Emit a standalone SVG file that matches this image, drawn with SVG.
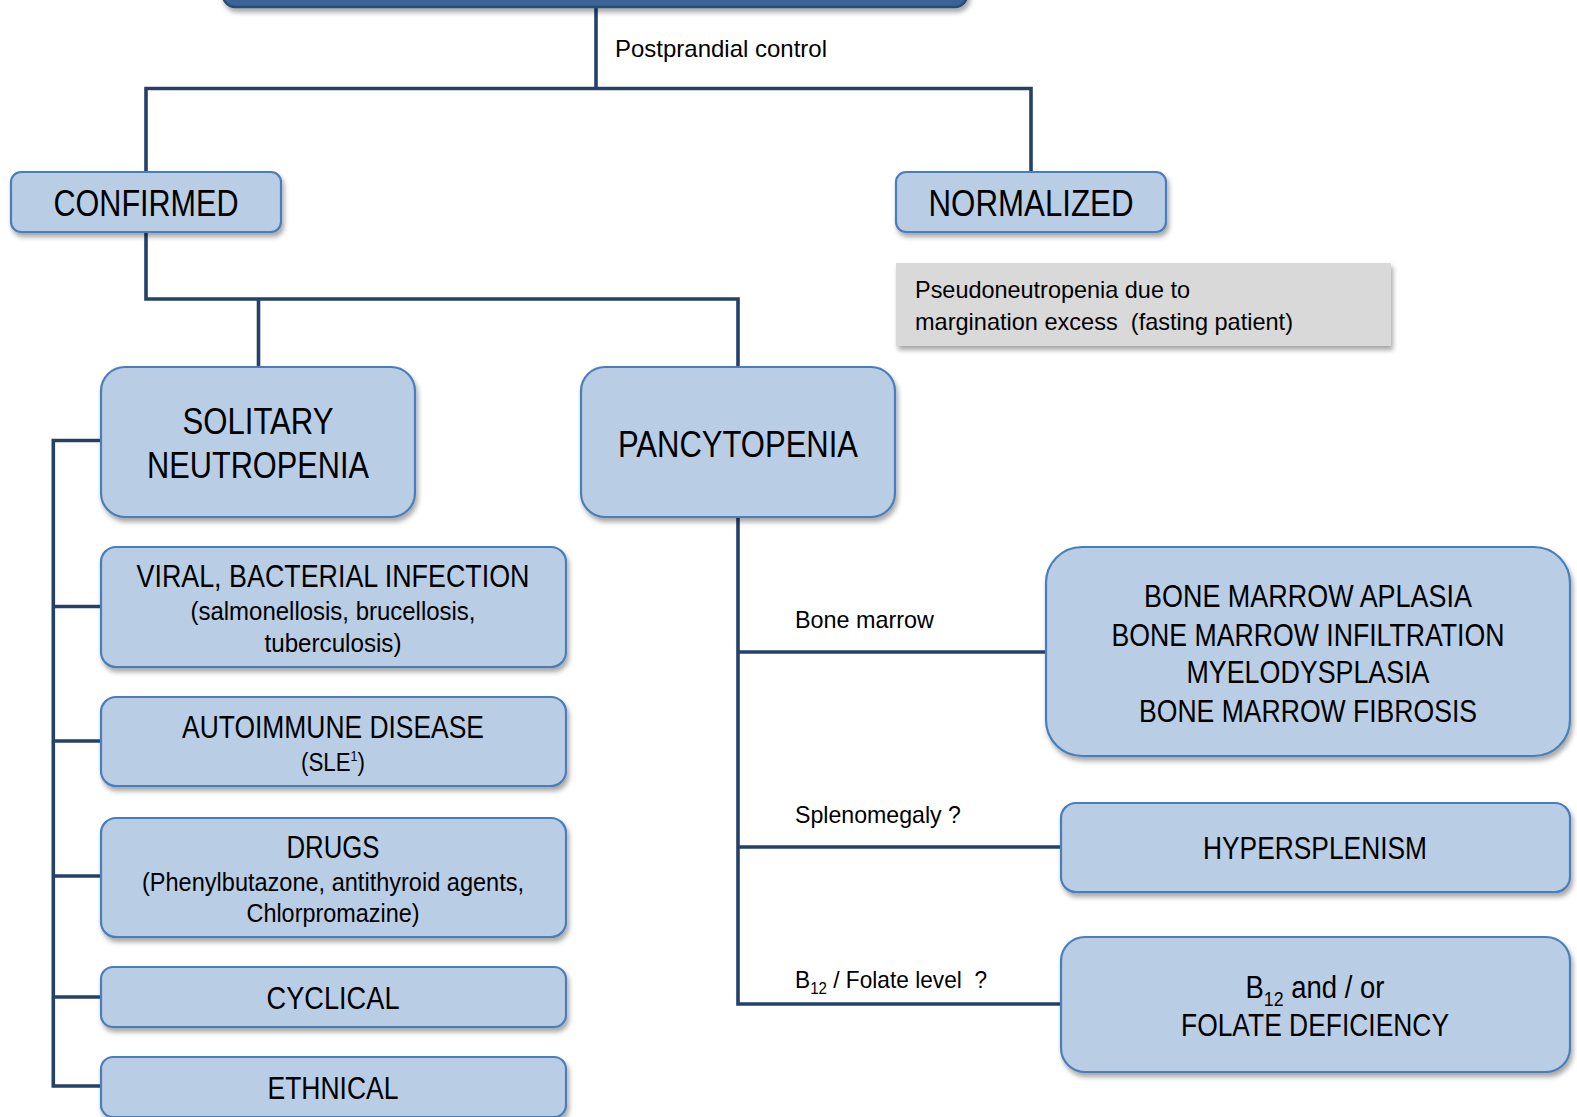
<svg xmlns="http://www.w3.org/2000/svg" width="1577" height="1117" viewBox="0 0 1577 1117">
<defs>
<filter id="sh" x="-10%" y="-10%" width="125%" height="135%">
<feDropShadow dx="2" dy="4" stdDeviation="2.5" flood-color="#000" flood-opacity="0.35"/>
</filter>
<style>
.box{fill:#b9cde5;stroke:#4a7ebb;stroke-width:2.2;filter:url(#sh)}
.gray{fill:#d9d9d9;stroke:none;filter:url(#sh)}
.top{fill:#3b6497;stroke:#2b4c74;stroke-width:2.5;filter:url(#sh)}
.ln{fill:none;stroke:#24416a;stroke-width:3.6;stroke-linejoin:miter;stroke-linecap:square}
text{font-family:"Liberation Sans Narrow","Arial Narrow","Liberation Sans",sans-serif;fill:#000}
.c{text-anchor:middle}
.big{font-size:37px}
.mid{font-size:31px}
.sm{font-size:25px}
.lab{font-size:24px}
</style>
</defs>
<g id="connectors">
<path class="ln" d="M596,8 V88.5 M146,88.5 H1031 M146,88.5 V172 M1031,88.5 V172"/>
<path class="ln" d="M146,232 V299 H738 M258.5,299 V367 M738,299 V367"/>
<path class="ln" d="M101,440.5 H53.3 V1086 H101 M53.3,606.5 H101 M53.3,741 H101 M53.3,876 H101 M53.3,997 H101"/>
<path class="ln" d="M738,517 V1004 H1061 M738,652 H1046 M738,847 H1061"/>
</g>
<g id="node-top"><rect class="top" x="223" y="-30" width="744" height="37" rx="12"/></g>
<g id="label-postprandial"><text class="lab" x="615" y="57" textLength="212" lengthAdjust="spacingAndGlyphs">Postprandial control</text></g>
<g id="node-confirmed"><rect class="box" x="11" y="172" width="270" height="60" rx="10"/><text class="c big" x="146" y="216" textLength="185" lengthAdjust="spacingAndGlyphs">CONFIRMED</text></g>
<g id="node-normalized"><rect class="box" x="896" y="172" width="270" height="60" rx="10"/><text class="c big" x="1031" y="216" textLength="205" lengthAdjust="spacingAndGlyphs">NORMALIZED</text></g>
<g id="node-pseudo"><rect class="gray" x="896" y="263" width="495" height="83"/><text class="lab" x="915" y="298" textLength="275" lengthAdjust="spacingAndGlyphs">Pseudoneutropenia due to</text><text class="lab" x="915" y="330" xml:space="preserve" textLength="378" lengthAdjust="spacingAndGlyphs">margination excess  (fasting patient)</text></g>
<g id="node-solitary"><rect class="box" x="101" y="367" width="314" height="150" rx="24"/><text class="c big" x="258" y="434" textLength="151" lengthAdjust="spacingAndGlyphs">SOLITARY</text><text class="c big" x="258" y="478" textLength="222" lengthAdjust="spacingAndGlyphs">NEUTROPENIA</text></g>
<g id="node-pancytopenia"><rect class="box" x="581" y="367" width="314" height="150" rx="24"/><text class="c big" x="738" y="457" textLength="240" lengthAdjust="spacingAndGlyphs">PANCYTOPENIA</text></g>
<g id="node-viral"><rect class="box" x="101" y="547" width="465" height="120" rx="15"/><text class="c mid" x="333" y="587" textLength="393" lengthAdjust="spacingAndGlyphs">VIRAL, BACTERIAL INFECTION</text><text class="c sm" x="333" y="620" textLength="285" lengthAdjust="spacingAndGlyphs">(salmonellosis, brucellosis,</text><text class="c sm" x="333" y="652" textLength="137" lengthAdjust="spacingAndGlyphs">tuberculosis)</text></g>
<g id="node-autoimmune"><rect class="box" x="101" y="697" width="465" height="89" rx="15"/><text class="c mid" x="333" y="738" textLength="302" lengthAdjust="spacingAndGlyphs">AUTOIMMUNE DISEASE</text><text class="c sm" x="333" y="771" textLength="64" lengthAdjust="spacingAndGlyphs">(SLE<tspan font-size="14" dy="-10">1</tspan><tspan dy="10">)</tspan></text></g>
<g id="node-drugs"><rect class="box" x="101" y="818" width="465" height="119" rx="15"/><text class="c mid" x="333" y="858" textLength="93" lengthAdjust="spacingAndGlyphs">DRUGS</text><text class="c sm" x="333" y="891" textLength="382" lengthAdjust="spacingAndGlyphs">(Phenylbutazone, antithyroid agents,</text><text class="c sm" x="333" y="922" textLength="173" lengthAdjust="spacingAndGlyphs">Chlorpromazine)</text></g>
<g id="node-cyclical"><rect class="box" x="101" y="967" width="465" height="60" rx="12"/><text class="c mid" x="333" y="1009" textLength="133" lengthAdjust="spacingAndGlyphs">CYCLICAL</text></g>
<g id="node-ethnical"><rect class="box" x="101" y="1057" width="465" height="60" rx="12"/><text class="c mid" x="333" y="1099" textLength="131" lengthAdjust="spacingAndGlyphs">ETHNICAL</text></g>
<g id="label-bone"><text class="lab" x="795" y="628" textLength="139" lengthAdjust="spacingAndGlyphs">Bone marrow</text></g>
<g id="node-bonemarrow"><rect class="box" x="1046" y="547" width="524" height="209" rx="36"/><text class="c mid" x="1308" y="607" textLength="328" lengthAdjust="spacingAndGlyphs">BONE MARROW APLASIA</text><text class="c mid" x="1308" y="646" textLength="393" lengthAdjust="spacingAndGlyphs">BONE MARROW INFILTRATION</text><text class="c mid" x="1308" y="683" textLength="243" lengthAdjust="spacingAndGlyphs">MYELODYSPLASIA</text><text class="c mid" x="1308" y="722" textLength="338" lengthAdjust="spacingAndGlyphs">BONE MARROW FIBROSIS</text></g>
<g id="label-spleno"><text class="lab" x="795" y="823" textLength="166" lengthAdjust="spacingAndGlyphs">Splenomegaly ?</text></g>
<g id="node-hypersplenism"><rect class="box" x="1061" y="803" width="509" height="89" rx="15"/><text class="c mid" x="1315" y="859" textLength="224" lengthAdjust="spacingAndGlyphs">HYPERSPLENISM</text></g>
<g id="label-b12"><text class="lab" x="795" y="988" xml:space="preserve" textLength="192" lengthAdjust="spacingAndGlyphs">B<tspan font-size="16" dy="6">12</tspan><tspan dy="-6"> / Folate level  ?</tspan></text></g>
<g id="node-b12"><rect class="box" x="1061" y="937" width="509" height="135" rx="24"/><text class="c mid" x="1315" y="998" textLength="139" lengthAdjust="spacingAndGlyphs">B<tspan font-size="20" dy="8">12</tspan><tspan dy="-8"> and / or</tspan></text><text class="c mid" x="1315" y="1036" textLength="268" lengthAdjust="spacingAndGlyphs">FOLATE DEFICIENCY</text></g>
</svg>
